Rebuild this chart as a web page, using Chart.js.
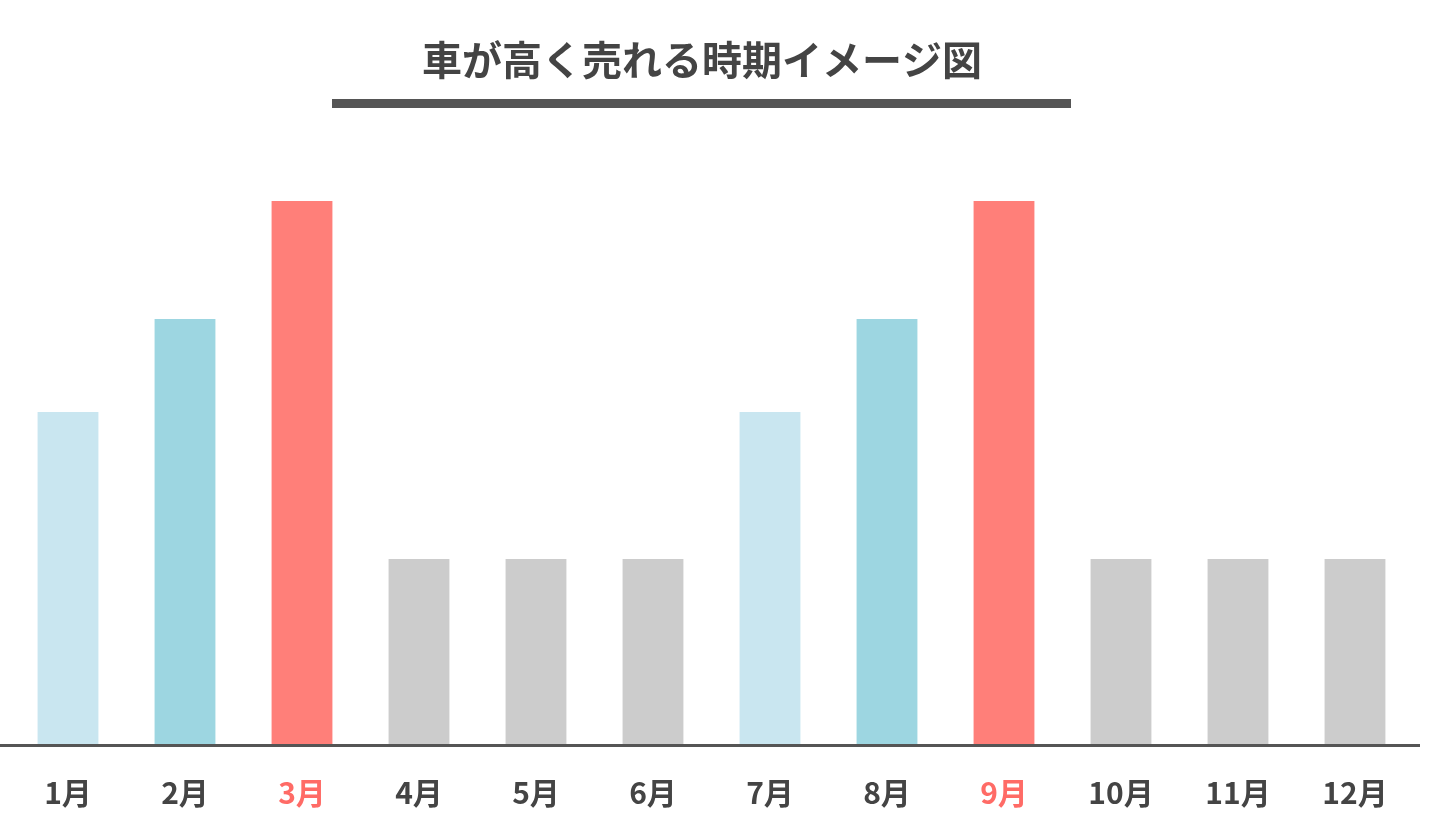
<!DOCTYPE html>
<html>
<head>
<meta charset="utf-8">
<script src="https://cdn.jsdelivr.net/npm/chart.js"></script>
<style>
  html, body { margin: 0; padding: 0; background: #fff; }
  #wrap { width: 1436px; height: 821px; }
</style>
</head>
<body>
<div id="wrap"><canvas id="chart"></canvas></div>
<script>
const months = ["1月", "2月", "3月", "4月", "5月", "6月", "7月", "8月", "9月", "10月", "11月", "12月"];
const values = [333, 426, 544, 186, 186, 186, 333, 426, 544, 186, 186, 186];
const barColors = ["#c9e6f0", "#9dd6e1", "#ff7f79", "#cccccc", "#cccccc", "#cccccc",
  "#c9e6f0", "#9dd6e1", "#ff7f79", "#cccccc", "#cccccc", "#cccccc"];
const labelColors = months.map((m, i) => (i === 2 || i === 8 ? "#ff6b66" : "#444444"));
const titleText = "車が高く売れる時期イメージ図";
const fontFamily = "'Noto Sans CJK JP', 'Noto Sans', sans-serif";

// title, underline and base line
const decor = {
  id: "decor",
  afterDraw(chart) {
    const ctx = chart.ctx;
    const area = chart.chartArea;
    ctx.save();
    ctx.fillStyle = "#444444";
    ctx.font = "bold 40px " + fontFamily;
    ctx.textAlign = "center";
    ctx.textBaseline = "middle";
    ctx.fillText(titleText, 702, 60);
    ctx.fillStyle = "#555555";
    ctx.fillRect(332, 99, 739, 9);
    ctx.fillRect(0, area.bottom - 1, 1420, 3);
    ctx.restore();
  }
};

new Chart(document.getElementById("chart"), {
  type: "bar",
  data: {
    labels: months,
    datasets: [{
      data: values,
      backgroundColor: barColors,
      categoryPercentage: 1,
      barPercentage: 0.52,
    }],
  },
  options: {
    responsive: true,
    maintainAspectRatio: false,
    animation: false,
    layout: { padding: { top: 201, left: 9.5, right: 22.5, bottom: 0 } },
    plugins: {
      legend: { display: false },
      tooltip: { enabled: false },
      title: { display: false },
    },
    scales: {
      x: {
        grid: { display: false },
        border: { display: false },
        ticks: {
          color: labelColors,
          font: { family: fontFamily, size: 30, weight: "bold" },
          padding: 22,
          maxRotation: 0,
        },
        afterFit(scale) { scale.height = 76; },
      },
      y: { display: false, min: 0, max: 544 },
    },
  },
  plugins: [decor],
});
</script>
</body>
</html>
